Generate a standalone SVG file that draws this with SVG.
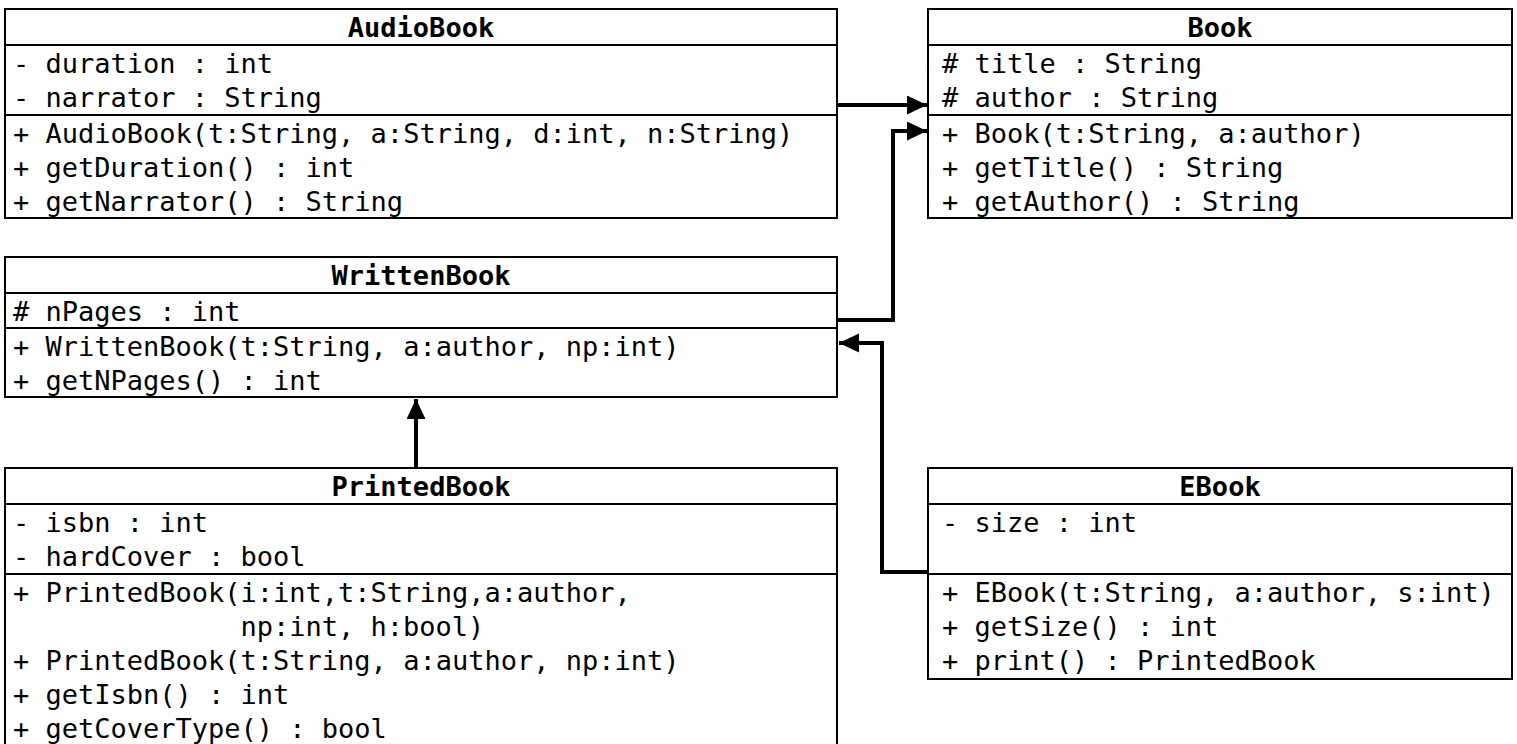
<svg xmlns="http://www.w3.org/2000/svg" width="1517" height="744" viewBox="0 0 1517 744">
<style>
.box{fill:#fff;stroke:#000;stroke-width:2}
.sep{stroke:#000;stroke-width:2}
.t{font-family:"DejaVu Sans Mono","Liberation Mono",monospace;font-size:27px;fill:#000}
.h{font-family:"DejaVu Sans Mono","Liberation Mono",monospace;font-size:27px;font-weight:bold;fill:#000;text-anchor:middle}
.c{fill:none;stroke:#000;stroke-width:4}
</style>
<defs>
<marker id="arr" markerUnits="userSpaceOnUse" markerWidth="22" markerHeight="22" viewBox="0 0 22 22" refX="20" refY="9.5" orient="auto">
<path d="M0,0 L20,9.5 L0,19 z" fill="#000"/>
</marker>
</defs>
<rect width="1517" height="744" fill="#fff"/>
<g id="AudioBook">
<rect class="box" x="5" y="9" width="832" height="209"/>
<line class="sep" x1="5" y1="45" x2="837" y2="45"/>
<line class="sep" x1="5" y1="115" x2="837" y2="115"/>
<text class="h" x="421" y="37">AudioBook</text>
<text class="t" x="13" y="73">- duration : int</text>
<text class="t" x="13" y="107">- narrator : String</text>
<text class="t" x="13" y="143">+ AudioBook(t:String, a:String, d:int, n:String)</text>
<text class="t" x="13" y="177">+ getDuration() : int</text>
<text class="t" x="13" y="211">+ getNarrator() : String</text>
</g>
<g id="Book">
<rect class="box" x="928" y="9" width="584" height="209"/>
<line class="sep" x1="928" y1="45" x2="1512" y2="45"/>
<line class="sep" x1="928" y1="115" x2="1512" y2="115"/>
<text class="h" x="1220" y="37">Book</text>
<text class="t" x="942" y="73"># title : String</text>
<text class="t" x="942" y="107"># author : String</text>
<text class="t" x="942" y="143">+ Book(t:String, a:author)</text>
<text class="t" x="942" y="177">+ getTitle() : String</text>
<text class="t" x="942" y="211">+ getAuthor() : String</text>
</g>
<g id="WrittenBook">
<rect class="box" x="5" y="257" width="832" height="140"/>
<line class="sep" x1="5" y1="293" x2="837" y2="293"/>
<line class="sep" x1="5" y1="328" x2="837" y2="328"/>
<text class="h" x="421" y="285">WrittenBook</text>
<text class="t" x="13" y="321"># nPages : int</text>
<text class="t" x="13" y="356">+ WrittenBook(t:String, a:author, np:int)</text>
<text class="t" x="13" y="390">+ getNPages() : int</text>
</g>
<g id="PrintedBook">
<rect class="box" x="5" y="468" width="832" height="300"/>
<line class="sep" x1="5" y1="504" x2="837" y2="504"/>
<line class="sep" x1="5" y1="574" x2="837" y2="574"/>
<text class="h" x="421" y="496">PrintedBook</text>
<text class="t" x="13" y="532">- isbn : int</text>
<text class="t" x="13" y="566">- hardCover : bool</text>
<text class="t" x="13" y="602">+ PrintedBook(i:int,t:String,a:author,</text>
<text class="t" x="240.5" y="636">np:int, h:bool)</text>
<text class="t" x="13" y="670">+ PrintedBook(t:String, a:author, np:int)</text>
<text class="t" x="13" y="704">+ getIsbn() : int</text>
<text class="t" x="13" y="738">+ getCoverType() : bool</text>
</g>
<g id="EBook">
<rect class="box" x="928" y="468" width="584" height="211"/>
<line class="sep" x1="928" y1="504" x2="1512" y2="504"/>
<line class="sep" x1="928" y1="574" x2="1512" y2="574"/>
<text class="h" x="1220" y="496">EBook</text>
<text class="t" x="942" y="532">- size : int</text>
<text class="t" x="942" y="602">+ EBook(t:String, a:author, s:int)</text>
<text class="t" x="942" y="636">+ getSize() : int</text>
<text class="t" x="942" y="670">+ print() : PrintedBook</text>
</g>
<g id="connectors">
<path class="c" d="M837,105 L927,105" marker-end="url(#arr)"/>
<path class="c" d="M837,320 L893,320 L893,131 L927,131" marker-end="url(#arr)"/>
<path class="c" d="M416,468 L416,399" marker-end="url(#arr)"/>
<path class="c" d="M928,572 L882,572 L882,343 L839,343" marker-end="url(#arr)"/>
</g>
</svg>
